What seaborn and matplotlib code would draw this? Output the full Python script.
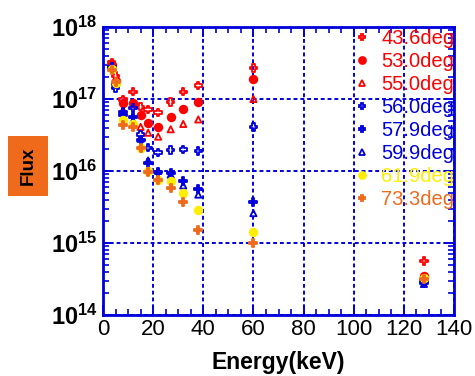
import numpy as np
import pandas as pd
import matplotlib
matplotlib.use('Agg')
import matplotlib.pyplot as plt
from matplotlib.ticker import FuncFormatter, MultipleLocator, LogLocator, NullFormatter
from matplotlib.lines import Line2D
import seaborn as sns

# энергии линий (кэВ) и поток для каждого угла
energy = [3.5, 5, 8, 12, 15, 18, 22, 27, 32, 38, 60, 128]

flux_436 = [3.2e17, 2.1e17, 9.8e16, 1.26e17, 7.8e16, 7.1e16, 6.5e16, 9.1e16, 1.26e17, 1.55e17, 2.7e17, 5.6e14]
flux_530 = [3.0e17, 1.78e17, 8.7e16, 8.7e16, 6.0e16, 4.7e16, 4.1e16, 5.6e16, 7.2e16, 9.1e16, 1.9e17, 3.5e14]
flux_550 = [2.9e17, 1.66e17, 7.1e16, 4.8e16, 4.1e16, 3.4e16, 3.0e16, 3.8e16, 4.5e16, 5.2e16, 1.0e17, 3.2e14]
flux_560 = [2.8e17, 1.41e17, 6.6e16, 7.5e16, 3.2e16, 2.1e16, 1.8e16, 1.95e16, 2.0e16, 1.9e16, 4.1e16, 3.0e14]
flux_579 = [2.75e17, 1.6e17, 6.0e16, 5.6e16, 2.7e16, 1.3e16, 9.8e15, 9.3e15, 7.2e15, 5.6e15, 3.7e15, 2.8e14]
flux_599 = [2.7e17, 1.6e17, 5.6e16, 5.0e16, 2.8e16, 1.4e16, 1.0e16, 8.9e15, 6.3e15, 4.7e15, 2.6e15, 2.7e14]
flux_619 = [2.6e17, 1.66e17, 5.1e16, 4.5e16, 2.1e16, 1.0e16, 7.6e15, 7.2e15, 4.9e15, 2.9e15, 1.4e15, 3.3e14]
flux_733 = [2.5e17, 1.74e17, 4.4e16, 4.1e16, 2.1e16, 9.8e15, 7.5e15, 5.8e15, 3.7e15, 1.5e15, 1.0e15, 3.2e14]

labels = ['43.6deg', '53.0deg', '55.0deg', '56.0deg', '57.9deg', '59.9deg', '61.9deg', '73.3deg']
fluxes = [flux_436, flux_530, flux_550, flux_560, flux_579, flux_599, flux_619, flux_733]

RED = '#ff0000'
BLUE = '#0000dd'
YEL = '#ffee00'
ORA = '#f06a1c'
colors = [RED, RED, RED, BLUE, BLUE, BLUE, YEL, ORA]
markers = ['P', 'o', '^', 'P', 'P', '^', 'o', 'P']
filled = [False, True, False, False, True, False, True, True]
sizes = [28, 30, 20, 28, 34, 20, 30, 36]

sns.set_style('ticks')
plt.rcParams['font.family'] = ['Liberation Sans', 'DejaVu Sans']
plt.rcParams['mathtext.fontset'] = 'custom'
plt.rcParams['mathtext.rm'] = 'Liberation Sans'
plt.rcParams['mathtext.bf'] = 'Liberation Sans:bold'
plt.rcParams['text.color'] = 'black'
plt.rcParams['axes.labelcolor'] = 'black'
plt.rcParams['xtick.labelcolor'] = 'black'
plt.rcParams['ytick.labelcolor'] = 'black'

fig = plt.figure(figsize=(4.75, 3.76), dpi=100)
ax = fig.add_axes([103 / 475, 61 / 376, 351 / 475, 288 / 376])

df = pd.DataFrame({'energy': np.tile(energy, len(labels)),
                   'flux': np.concatenate(fluxes),
                   'angle': np.repeat(labels, len(energy))})

handles = []
for lab, col, mk, fl, s in zip(labels, colors, markers, filled, sizes):
    sub = df[df['angle'] == lab]
    fc = col if fl else 'none'
    sns.scatterplot(data=sub, x='energy', y='flux', ax=ax, marker=mk, s=s,
                    color=col, facecolor=fc, edgecolor=col, linewidth=1.3,
                    zorder=3, legend=False)
    handles.append(Line2D([], [], linestyle='none', marker=mk, markersize=5,
                          markerfacecolor=fc, markeredgecolor=col, markeredgewidth=1.3))

ax.set_yscale('log')
ax.set_xlim(0, 140)
ax.set_ylim(1e14, 1e18)

ax.xaxis.set_major_locator(MultipleLocator(20))
ax.xaxis.set_minor_locator(MultipleLocator(5))
ax.yaxis.set_major_locator(LogLocator(base=10, numticks=10))
ax.yaxis.set_minor_locator(LogLocator(base=10, subs=np.arange(2, 10), numticks=20))
ax.yaxis.set_minor_formatter(NullFormatter())
ax.yaxis.set_major_formatter(FuncFormatter(lambda v, p: r'$\mathbf{10^{%d}}$' % round(np.log10(v))))

ax.grid(True, which='major', color=BLUE, linestyle=(0, (2, 1.5)), linewidth=1.4, zorder=1)
for sp in ax.spines.values():
    sp.set_color(BLUE)
    sp.set_linewidth(2)
ax.tick_params(which='both', direction='in', top=True, right=True, color=BLUE)
ax.tick_params(which='major', length=7, width=1.4)
ax.tick_params(which='minor', length=4, width=1.2)
ax.tick_params(axis='x', labelsize=16, pad=3, labelcolor='black')
ax.tick_params(axis='y', labelsize=17, pad=4, labelcolor='black')

ax.set_xlabel('Energy(keV)', fontsize=16.5, fontweight='bold', labelpad=8, color='black')
ax.set_ylabel('')
fig.text(28 / 475, 1 - 166 / 376, 'Flux', rotation=90, ha='center', va='center',
         fontsize=13.5, fontweight='bold', color='black',
         bbox=dict(facecolor=ORA, edgecolor='none', boxstyle='square,pad=0.6'))

ax.legend(handles, labels, loc='upper left', bbox_to_anchor=(351 / 475, 1 - 27 / 376),
          bbox_transform=fig.transFigure, frameon=False, fontsize=14.5,
          labelcolor=colors, handletextpad=0.5, handlelength=0.9,
          labelspacing=0.2, borderpad=0.1, borderaxespad=0)

fig.savefig('out.png', dpi=100)
